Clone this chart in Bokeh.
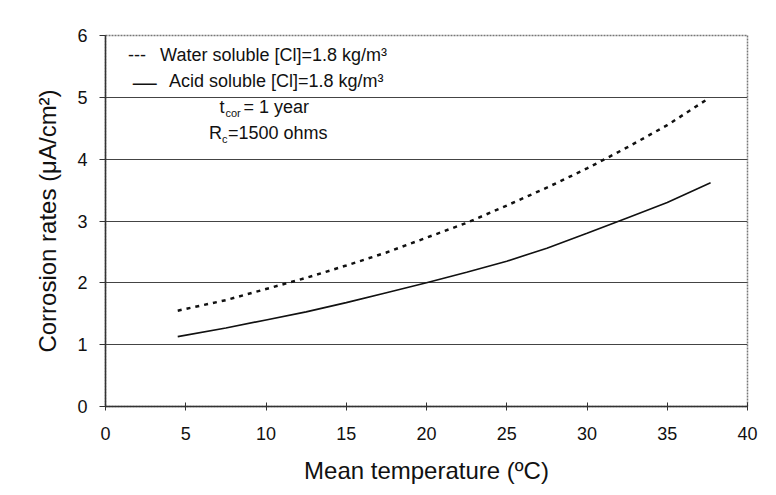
from bokeh.plotting import figure
from bokeh.models import Label, Range1d, FixedTicker, ColumnDataSource
from bokeh.embed import file_html
from bokeh.resources import INLINE

# data
temp_water = [4.5, 7.5, 10, 12.5, 15, 17.5, 20, 22.5, 25, 27.5, 30, 32.5, 35, 37.5]
rate_water = [1.55, 1.72, 1.9, 2.08, 2.28, 2.49, 2.73, 2.97, 3.25, 3.54, 3.85, 4.19, 4.55, 4.97]
temp_acid = [4.5, 7.5, 10, 12.5, 15, 17.5, 20, 22.5, 25, 27.5, 30, 32.5, 35, 37.7]
rate_acid = [1.13, 1.27, 1.4, 1.53, 1.68, 1.84, 2.0, 2.17, 2.35, 2.56, 2.8, 3.05, 3.3, 3.62]
x_ticks = [0, 5, 10, 15, 20, 25, 30, 35, 40]
y_ticks = [0, 1, 2, 3, 4, 5, 6]

FONT = "Liberation Sans"

p = figure(width=768, height=487, output_backend="svg", toolbar_location=None,
           x_range=Range1d(0, 40), y_range=Range1d(0, 6))
p.min_border_left = 105
p.min_border_right = 21
p.min_border_top = 35
p.min_border_bottom = 81
p.background_fill_color = "white"
p.border_fill_color = "white"
p.outline_line_color = "#777777"
p.outline_line_dash = "2 1"
p.outline_line_width = 1.5

p.xgrid.grid_line_color = None
p.ygrid.ticker = FixedTicker(ticks=[1, 2, 3, 4, 5])
p.ygrid.grid_line_color = "#444444"
p.ygrid.grid_line_width = 1

p.xaxis.ticker = FixedTicker(ticks=x_ticks)
p.yaxis.ticker = FixedTicker(ticks=y_ticks)
for ax in (p.xaxis[0], p.yaxis[0]):
    ax.axis_line_color = "#333333"
    ax.axis_line_width = 1.5
    ax.major_tick_line_color = "#333333"
    ax.minor_tick_line_color = None
    ax.major_label_text_font = FONT
    ax.major_label_text_font_size = "18px"
    ax.major_label_text_color = "#111111"
    ax.axis_label_text_font = FONT
    ax.axis_label_text_font_style = "normal"
    ax.axis_label_text_font_size = "24px"
    ax.axis_label_text_color = "#111111"
p.xaxis.major_tick_in = 4
p.xaxis.major_tick_out = 4
p.yaxis.major_tick_in = 0
p.yaxis.major_tick_out = 6
p.xaxis.major_label_standoff = 16
p.yaxis.major_label_standoff = 12
p.xaxis.axis_label = "Mean temperature (ºC)"
p.yaxis.axis_label = "Corrosion rates (μA/cm²)"
p.xaxis.axis_label_standoff = 14
p.yaxis.axis_label_standoff = 13

src_w = ColumnDataSource(dict(x=temp_water, y=rate_water))
src_a = ColumnDataSource(dict(x=temp_acid, y=rate_acid))
p.line("x", "y", source=src_w, line_color="#111111", line_width=2.5, line_dash="4 5")
p.line("x", "y", source=src_a, line_color="#111111", line_width=1.6)

def lab(x, y, text, size="18px", **kw):
    p.add_layout(Label(x=x, y=y, text=text, text_font=FONT, text_font_size=size,
                       text_color="#111111", text_baseline="middle", **kw))

lab(1.4, 5.69, "---")
lab(3.4, 5.69, "Water soluble  [Cl]=1.8 kg/m³")
lab(1.7, 5.26, "—", size="24px")
lab(3.95, 5.26, "Acid  soluble [Cl]=1.8 kg/m³")
lab(7.1, 4.85, "t")
lab(7.1, 4.85, "cor", size="11px", x_offset=6, y_offset=-6)
lab(7.1, 4.85, "= 1 year", x_offset=24)
lab(6.45, 4.43, "R")
lab(6.45, 4.43, "c", size="11px", x_offset=13, y_offset=-6)
lab(6.45, 4.43, "=1500 ohms", x_offset=19)

open("out.html", "w").write(file_html(p, INLINE))
